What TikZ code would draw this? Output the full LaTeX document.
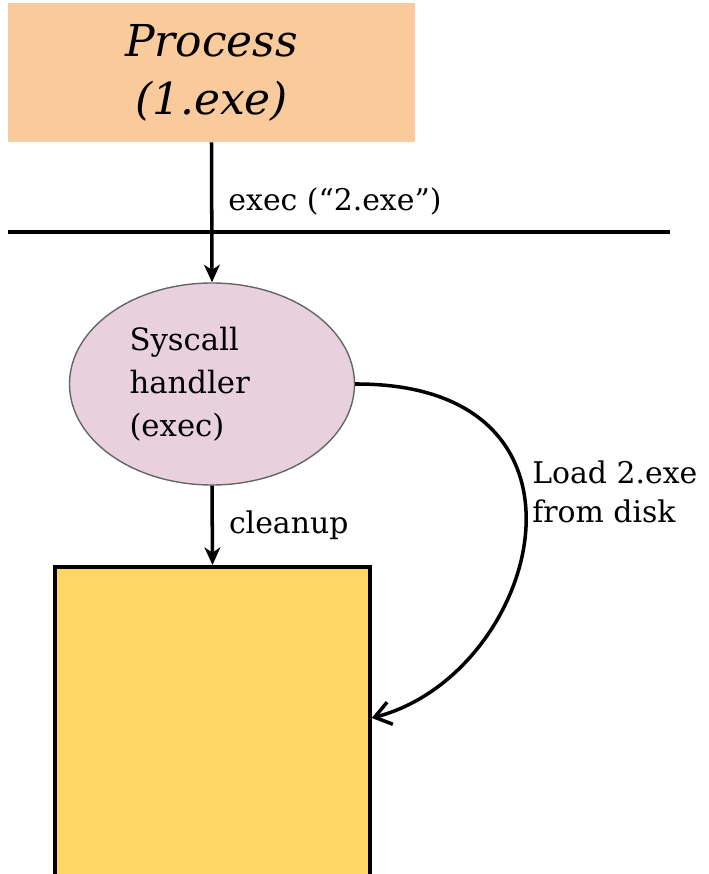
\documentclass[tikz,border=0pt]{standalone}
\usepackage{fontspec}
\setmainfont{DejaVu Serif}
\usepackage{xcolor}
\usetikzlibrary{arrows.meta,shapes.geometric}

\definecolor{procpeach}{HTML}{F8CA9C}
\definecolor{handlerpink}{HTML}{E8D1DC}
\definecolor{memyellow}{HTML}{FDD663}

\begin{document}
\begin{tikzpicture}[
flow/.style={line width=2pt, -{Stealth[length=10pt,width=9pt,inset=3pt]}},
lbl/.style={font=\fontsize{17}{20}\selectfont, inner sep=0pt}]

\useasboundingbox (0,0) rectangle (14.18,17.48);

% User process and kernel boundary
\node[fill=procpeach, minimum width=8.14cm, minimum height=2.78cm, align=center,
font=\fontsize{25}{33}\selectfont\itshape] (proc) at (4.23,16.03) {Process\\(1.exe)};
\draw[line width=2pt] (0.16,12.84) -- (13.4,12.84);

% Syscall handler
\node[ellipse, draw=gray!80!black, line width=0.8pt, fill=handlerpink, minimum width=5.7cm,
minimum height=4.04cm, align=left, text width=3.3cm, font=\fontsize{17.5}{24.5}\selectfont]
(handler) at (4.24,9.8) {Syscall\\handler\\(exec)};

% Process memory (cut off at the bottom)
\node[draw, line width=2pt, fill=memyellow, minimum width=6.3cm, minimum height=6.6cm,
anchor=north] (mem) at (4.25,6.18) {};

\draw[flow] (proc.south) -- node[lbl, pos=0.42, right=0.3cm] (execlbl) {exec (“2.exe”)} (handler.north);
\draw[flow] (handler.south) -- node[lbl, right=0.3cm] (cleanlbl) {cleanup} (mem.north);
\draw[line width=2pt, -{Straight Barb[length=9pt,width=13pt]}] (handler.east)
.. controls (12.35,9.82) and (10.8,4.0) .. ([yshift=-3.06cm]mem.north east);
\node[lbl, anchor=west, align=left, font=\fontsize{17}{22}\selectfont] (loadlbl) at (10.64,7.64) {Load 2.exe\\from disk};
\end{tikzpicture}
\end{document}
